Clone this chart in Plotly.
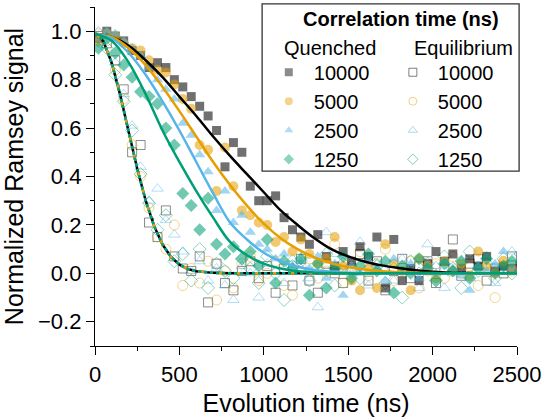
import plotly.graph_objects as go

# evolution times of the measured points (ns)
t_ns = [20, 70, 120, 170, 220, 270, 320, 370, 420, 470, 520, 570, 620, 670, 720,
        770, 820, 870, 920, 970, 1020, 1070, 1120, 1170, 1220, 1270, 1320, 1370,
        1420, 1470, 1520, 1570, 1620, 1670, 1720, 1770, 1820, 1870, 1920, 1970,
        2020, 2070, 2120, 2170, 2220, 2270, 2320, 2370, 2420, 2470, 2520]

# quenched data
q_10000 = [0.97, 1.00, 0.98, 0.96, 0.92, 0.90, 0.85, 0.87, 0.85, 0.80, 0.77, 0.73, 0.69, 0.65, 0.59,
           0.44, 0.54, 0.50, 0.36, 0.30, 0.30, 0.32, 0.23, 0.18, 0.15, 0.12, 0.16, 0.07,
           0.03, 0.09, 0.05, 0.11, 0.07, 0.15, -0.06, 0.14, -0.03, 0.02, -0.03, 0.04,
           0.09, 0.05, 0.08, 0.02, 0.06, 0.03, 0.07, 0.01, 0.03, 0.02, 0.03]
q_5000 = [0.96, 0.99, 0.98, 0.95, 0.93, 0.92, 0.88, 0.84, 0.83, 0.78, 0.72, 0.68, 0.53, 0.51, 0.34,
          0.52, 0.36, 0.26, 0.24, 0.21, 0.20, 0.13, 0.15, 0.09, 0.14, 0.08, 0.04, 0.06,
          0.15, 0.03, -0.03, -0.07, 0.02, -0.06, 0.12, 0.04, 0.01, -0.07, 0.06, 0.03,
          -0.02, 0.05, 0.01, 0.04, -0.01, 0.09, 0.03, 0.00, 0.05, 0.02, 0.01]
q_2500 = [0.97, 1.00, 0.99, 0.96, 0.93, 0.90, 0.85, 0.80, 0.76, 0.72, 0.62, 0.57, 0.49, 0.42, 0.26,
          0.34, 0.21, 0.24, 0.17, 0.12, 0.10, 0.06, 0.08, 0.03, 0.05, 0.02, 0.07, -0.02,
          0.04, -0.09, 0.03, 0.00, 0.05, 0.02, -0.03, 0.06, 0.01, 0.04, -0.02, 0.03,
          0.00, 0.05, 0.02, -0.01, -0.07, 0.03, 0.01, 0.04, 0.09, 0.02, 0.06]
q_1250 = [0.93, 0.97, 0.91, 0.86, 0.81, 0.75, 0.73, 0.70, 0.60, 0.53, 0.33, 0.28, 0.18, 0.31, 0.12,
          0.08, 0.11, 0.06, 0.09, 0.03, 0.14, -0.04, 0.05, 0.02, 0.06, -0.09, 0.04, -0.06,
          0.02, 0.07, -0.02, 0.03, 0.08, 0.01, 0.05, -0.08, 0.03, 0.00, 0.06, 0.02,
          -0.03, 0.04, 0.01, 0.05, -0.02, 0.02, 0.06, 0.00, 0.03, 0.05, 0.01]

# equilibrium data
e_10000 = [0.98, 0.95, 0.88, 0.76, 0.50, 0.53, 0.21, 0.15, 0.26, 0.07, 0.02, 0.01, 0.07, -0.12, 0.04,
           -0.04, -0.07, 0.01, 0.05, -0.02, 0.03, -0.08, 0.02, -0.05, 0.06, -0.03, -0.08, 0.04,
           0.00, -0.04, 0.02, 0.08, -0.03, 0.05, -0.07, 0.01, 0.06, -0.02, 0.03, 0.05,
           -0.04, 0.02, 0.14, -0.01, 0.04, 0.06, -0.03, 0.02, 0.00, 0.07, 0.03]
e_5000 = [0.99, 0.96, 0.84, 0.72, 0.53, 0.40, 0.27, 0.15, 0.10, 0.20, -0.05, 0.02, -0.04, 0.05, -0.11,
          0.01, -0.06, 0.04, 0.07, -0.03, 0.00, 0.05, -0.05, -0.09, 0.03, 0.06, -0.02, 0.01,
          0.12, -0.04, 0.03, 0.09, -0.01, 0.04, 0.10, -0.03, 0.02, 0.05, -0.06, 0.01,
          0.04, -0.02, 0.07, 0.00, 0.03, -0.05, 0.02, -0.10, 0.05, 0.01, 0.04]
e_2500 = [1.00, 0.97, 0.87, 0.74, 0.61, 0.44, 0.30, 0.35, 0.22, 0.16, 0.09, 0.01, 0.05, -0.03, 0.02,
          -0.05, -0.11, 0.03, 0.00, -0.10, 0.04, 0.01, -0.04, 0.06, 0.02, -0.02, -0.14, 0.17,
          0.08, 0.03, 0.00, 0.13, -0.05, 0.04, 0.02, -0.03, 0.06, 0.01, -0.06, 0.12,
          0.03, -0.06, 0.00, 0.05, -0.02, 0.03, 0.07, -0.04, 0.02, 0.09, 0.01]
e_1250 = [0.96, 0.93, 0.82, 0.71, 0.59, 0.41, 0.29, 0.18, 0.24, 0.05, 0.08, -0.03, 0.10, -0.06, 0.04,
          0.01, -0.02, 0.06, 0.02, -0.04, 0.07, 0.00, -0.11, 0.03, 0.05, -0.03, 0.02, 0.08,
          -0.05, 0.04, 0.01, -0.02, 0.06, 0.03, -0.04, 0.02, -0.10, 0.05, 0.00, 0.04,
          -0.03, 0.07, 0.02, -0.06, 0.09, 0.01, 0.04, -0.02, 0.06, 0.00, 0.08]

# fitted curves
fit_t_q = [0, 100, 200, 300, 400, 500, 600, 700, 800, 900, 1000, 1100, 1200, 1300,
           1400, 1500, 1600, 1700, 1800, 1900, 2000, 2100, 2200, 2300, 2400, 2500]
fit_q_10000 = [0.99, 0.975, 0.94, 0.88, 0.81, 0.73, 0.65, 0.565, 0.485, 0.41, 0.335, 0.26, 0.20,
               0.145, 0.10, 0.07, 0.048, 0.033, 0.022, 0.013, 0.007, 0.003, 0.001, 0.0, 0.0, 0.0]
fit_q_5000 = [0.99, 0.975, 0.93, 0.86, 0.77, 0.67, 0.565, 0.46, 0.365, 0.28, 0.205, 0.145, 0.10,
              0.066, 0.042, 0.026, 0.016, 0.009, 0.005, 0.003, 0.001, 0.0, 0.0, 0.0, 0.0, 0.0]
fit_q_2500 = [0.99, 0.97, 0.91, 0.82, 0.71, 0.59, 0.46, 0.33, 0.21, 0.14, 0.085, 0.05, 0.027,
              0.014, 0.007, 0.003, 0.001, 0.0, 0.0, 0.0, 0.0, 0.0, 0.0, 0.0, 0.0, 0.0]
fit_q_1250 = [0.99, 0.96, 0.87, 0.74, 0.59, 0.46, 0.34, 0.23, 0.13, 0.075, 0.04, 0.02, 0.009,
              0.004, 0.001, 0.0, 0.0, 0.0, 0.0, 0.0, 0.0, 0.0, 0.0, 0.0, 0.0, 0.0]
fit_t_e = [0, 50, 100, 150, 200, 250, 300, 350, 400, 450, 500, 550, 600, 650, 700, 750, 800,
           1000, 1500, 2000, 2500]
fit_e = [0.99, 0.958, 0.867, 0.735, 0.583, 0.433, 0.301, 0.196, 0.119, 0.068, 0.036, 0.018, 0.009,
         0.004, 0.002, 0.001, 0.0, 0.0, 0.0, 0.0, 0.0]

labels = ["10000", "5000", "2500", "1250"]
colors = ["0,0,0", "230,159,0", "86,180,233", "0,158,115"]
symbols = ["square", "circle", "triangle-up", "diamond"]
sizes = [9, 10, 10, 10]
quenched = [q_10000, q_5000, q_2500, q_1250]
equilibrium = [e_10000, e_5000, e_2500, e_1250]
fits_q = [fit_q_10000, fit_q_5000, fit_q_2500, fit_q_1250]

fig = go.Figure()

# equilibrium points (open)
for ys, c, s, sz in zip(equilibrium, colors, symbols, sizes):
    fig.add_trace(go.Scatter(
        x=t_ns, y=ys, mode="markers", showlegend=False,
        marker=dict(symbol=s + "-open", size=sz, color=f"rgba({c},0.45)",
                    line=dict(width=1, color=f"rgba({c},0.45)")),
    ))

# quenched points (filled)
for ys, c, s, sz in zip(quenched, colors, symbols, sizes):
    fig.add_trace(go.Scatter(
        x=t_ns, y=ys, mode="markers", showlegend=False,
        marker=dict(symbol=s, size=sz, color=f"rgba({c},0.56)", line=dict(width=0)),
    ))

# equilibrium fits, overlapping
fig.add_trace(go.Scatter(x=fit_t_e, y=fit_e, mode="lines", showlegend=False,
                         line=dict(color="black", width=2.5)))
fig.add_trace(go.Scatter(x=fit_t_e, y=fit_e, mode="lines", showlegend=False,
                         line=dict(color="rgb(230,159,0)", width=2.5, dash="dash")))
fig.add_trace(go.Scatter(x=fit_t_e, y=fit_e, mode="lines", showlegend=False,
                         line=dict(color="rgb(86,180,233)", width=2.5, dash="dot")))
fig.add_trace(go.Scatter(x=fit_t_e, y=fit_e, mode="lines", showlegend=False,
                         line=dict(color="rgb(0,158,115)", width=2.5, dash="dot")))

# quenched fits
for ys, c in zip(fits_q, colors):
    fig.add_trace(go.Scatter(x=fit_t_q, y=ys, mode="lines", line_shape="spline", showlegend=False,
                             line=dict(color=f"rgb({c})", width=2.5)))

# legend entries
for lab, c, s in zip(labels, colors, symbols):
    fig.add_trace(go.Scatter(x=[None], y=[None], mode="markers", name=lab, legend="legend",
                             marker=dict(symbol=s, size=8, color=f"rgba({c},0.45)", line=dict(width=0))))
for lab, c, s in zip(labels, colors, symbols):
    fig.add_trace(go.Scatter(x=[None], y=[None], mode="markers", name=lab, legend="legend2",
                             marker=dict(symbol=s + "-open", size=8, color=f"rgba({c},0.5)",
                                         line=dict(width=1, color=f"rgba({c},0.5)"))))

axis_common = dict(
    showline=True, linecolor="black", linewidth=1.3, mirror=False,
    ticks="outside", ticklen=8, tickwidth=1.3, tickcolor="black",
    showgrid=False, zeroline=False, automargin=False,
    tickfont=dict(size=22, color="black"),
)

fig.update_xaxes(
    range=[0, 2500], dtick=500, tick0=0,
    minor=dict(ticks="outside", ticklen=4, tickwidth=1.3, tickcolor="black", dtick=250),
    title=dict(text="Evolution time (ns)", font=dict(size=25, color="black"), standoff=8),
    **axis_common,
)
fig.update_yaxes(
    range=[-0.3, 1.1], dtick=0.2, tick0=0, tickformat=".1f",
    minor=dict(ticks="outside", ticklen=4, tickwidth=1.3, tickcolor="black", dtick=0.1),
    title=dict(text="Normalized Ramsey signal", font=dict(size=25, color="black"), standoff=8),
    **axis_common,
)

legend_common = dict(
    xref="paper", yref="paper", xanchor="left", yanchor="top",
    bgcolor="rgba(0,0,0,0)", borderwidth=0,
    font=dict(size=20, color="black"),
    itemsizing="trace", tracegroupgap=0, itemwidth=40,
)
head_font = dict(size=20, color="black")
fig.update_layout(
    width=543, height=419,
    margin=dict(l=95, r=26, t=7, b=73),
    plot_bgcolor="white", paper_bgcolor="white",
    font=dict(family="Liberation Sans, Arial, sans-serif", color="black"),
    legend=dict(x=0.40, y=0.865, **legend_common),
    legend2=dict(x=0.694, y=0.865, **legend_common),
    shapes=[dict(type="rect", xref="paper", yref="paper", x0=0.396, x1=1.005, y0=0.516, y1=1.009,
                 line=dict(color="#333333", width=1.3), fillcolor="rgba(0,0,0,0)", layer="above")],
    annotations=[
        dict(text="<b>Correlation time (ns)</b>", xref="paper", yref="paper", x=0.724, y=0.965,
             xanchor="center", yanchor="middle", showarrow=False, font=head_font),
        dict(text="Quenched", xref="paper", yref="paper", x=0.557, y=0.879,
             xanchor="center", yanchor="middle", showarrow=False, font=head_font),
        dict(text="Equilibrium", xref="paper", yref="paper", x=0.874, y=0.879,
             xanchor="center", yanchor="middle", showarrow=False, font=head_font),
    ],
)

fig.write_html("out.html", config={"displayModeBar": False},
               post_script="document.body.style.margin='0';")
